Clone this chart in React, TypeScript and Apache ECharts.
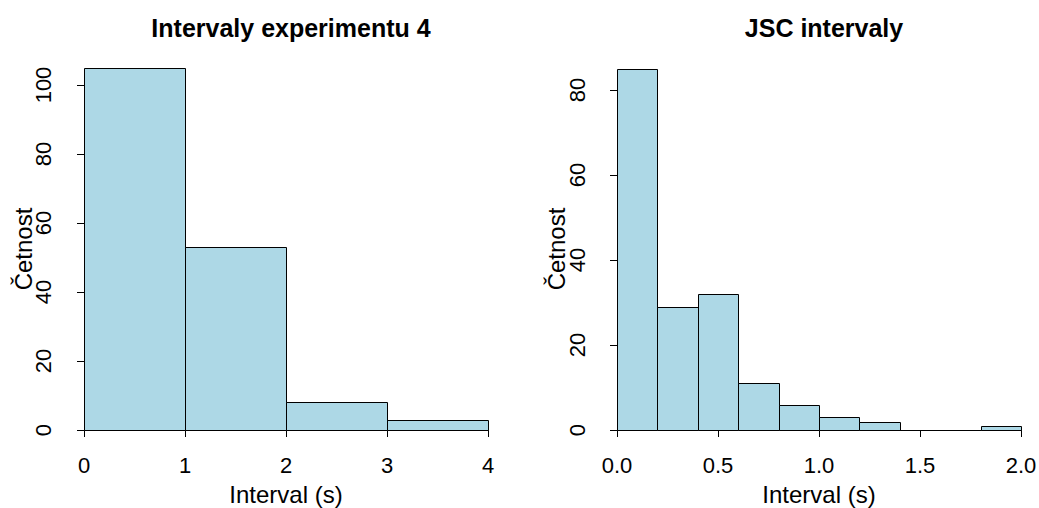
import React, { useEffect, useRef } from "react";
import * as echarts from "echarts";

// Left histogram: bin edges and counts
const leftBreaks = [0, 1, 2, 3, 4];
const leftCounts = [105, 53, 8, 3];
const leftTicksX = [0, 1, 2, 3, 4];
const leftTicksY = [0, 20, 40, 60, 80, 100];

// Right histogram: bin edges and counts
const rightBreaks = [0, 0.2, 0.4, 0.6, 0.8, 1.0, 1.2, 1.4, 1.6, 1.8, 2.0];
const rightCounts = [85, 29, 32, 11, 6, 3, 2, 0, 0, 1];
const rightTicksY = [0, 20, 40, 60, 80];

const leftTitle = "Intervaly experimentu 4";
const rightTitle = "JSC intervaly";
const xName = "Interval (s)";
const yName = "Četnost";

const FONT = "'Liberation Sans', Arial, Helvetica, sans-serif";
const FILL = "#ADD8E6";

function toBins(breaks: number[], counts: number[]) {
  return counts.map((c, i) => [breaks[i], breaks[i + 1], c]);
}

function renderBar(params: any, api: any) {
  const x0 = api.value(0);
  const x1 = api.value(1);
  const c = api.value(2);
  const p0 = api.coord([x0, c]);
  const p1 = api.coord([x1, 0]);
  const left = Math.round(p0[0]) + 0.5;
  const right = Math.round(p1[0]) + 0.5;
  const top = Math.round(p0[1]) + 0.5;
  const bottom = Math.round(p1[1]) + 0.5;
  return {
    type: "rect",
    shape: { x: left, y: top, width: right - left, height: bottom - top },
    style: { fill: FILL, stroke: "#000", lineWidth: 1 },
  };
}

const tickFont = { fontFamily: FONT, fontSize: 22, color: "#000" };

export default function App() {
  const ref = useRef<HTMLDivElement>(null);
  useEffect(() => {
    if (!ref.current) return;
    const chart = echarts.init(ref.current, undefined, { renderer: "svg" });
    const axisLine = { show: true, lineStyle: { color: "#000", width: 1 } };
    const axisTick = { show: true, length: 7, lineStyle: { color: "#000", width: 1 } };
    chart.setOption({
      animation: false,
      backgroundColor: "#fff",
      title: [
        {
          text: leftTitle,
          left: 286,
          top: 10,
          textAlign: "center",
          textStyle: { fontFamily: FONT, fontSize: 25, fontWeight: "bold", color: "#000" },
        },
        {
          text: rightTitle,
          left: 819,
          top: 10,
          textAlign: "center",
          textStyle: { fontFamily: FONT, fontSize: 25, fontWeight: "bold", color: "#000" },
        },
      ],
      grid: [
        { left: 84, right: 1039 - 488, top: 85, bottom: 508 - 430, outerBoundsMode: "none", containLabel: false },
        { left: 617, right: 1039 - 1021, top: 90, bottom: 508 - 430, outerBoundsMode: "none", containLabel: false },
      ],
      xAxis: [
        {
          gridIndex: 0,
          type: "value",
          min: leftTicksX[0],
          max: leftTicksX[leftTicksX.length - 1],
          interval: 1,
          offset: 15,
          axisLine,
          axisTick,
          splitLine: { show: false },
          axisLabel: { ...tickFont, margin: 9 },
          name: xName,
          nameLocation: "middle",
          nameGap: 37,
          nameTextStyle: { fontFamily: FONT, fontSize: 24, color: "#000" },
        },
        {
          gridIndex: 1,
          type: "value",
          min: rightBreaks[0],
          max: rightBreaks[rightBreaks.length - 1],
          interval: 0.5,
          offset: 15,
          axisLine,
          axisTick,
          splitLine: { show: false },
          axisLabel: { ...tickFont, margin: 9, formatter: (v: number) => v.toFixed(1) },
          name: xName,
          nameLocation: "middle",
          nameGap: 37,
          nameTextStyle: { fontFamily: FONT, fontSize: 24, color: "#000" },
        },
      ],
      yAxis: [
        {
          gridIndex: 0,
          type: "value",
          min: leftTicksY[0],
          max: leftTicksY[leftTicksY.length - 1],
          interval: 20,
          offset: 17,
          axisLine,
          axisTick,
          splitLine: { show: false },
          axisLabel: { ...tickFont, rotate: 90, margin: 13 },
        },
        {
          gridIndex: 1,
          type: "value",
          min: rightTicksY[0],
          max: rightTicksY[rightTicksY.length - 1],
          interval: 20,
          offset: 16,
          axisLine,
          axisTick,
          splitLine: { show: false },
          axisLabel: { ...tickFont, rotate: 90, margin: 13 },
        },
      ],
      graphic: [
        {
          type: "text",
          x: 23,
          y: 249,
          rotation: Math.PI / 2,
          style: {
            text: yName,
            font: `24px ${FONT}`,
            fill: "#000",
            textAlign: "center",
            textVerticalAlign: "middle",
          },
        },
        {
          type: "text",
          x: 556,
          y: 249,
          rotation: Math.PI / 2,
          style: {
            text: yName,
            font: `24px ${FONT}`,
            fill: "#000",
            textAlign: "center",
            textVerticalAlign: "middle",
          },
        },
      ],
      series: [
        {
          type: "custom",
          xAxisIndex: 0,
          yAxisIndex: 0,
          renderItem: renderBar,
          clip: false,
          encode: { x: [0, 1], y: 2 },
          data: toBins(leftBreaks, leftCounts),
        },
        {
          type: "custom",
          xAxisIndex: 1,
          yAxisIndex: 1,
          renderItem: renderBar,
          clip: false,
          encode: { x: [0, 1], y: 2 },
          data: toBins(rightBreaks, rightCounts),
        },
      ],
    });
    return () => chart.dispose();
  }, []);
  return <div ref={ref} style={{ width: 1039, height: 508, position: "absolute", left: 0, top: 0 }} />;
}
